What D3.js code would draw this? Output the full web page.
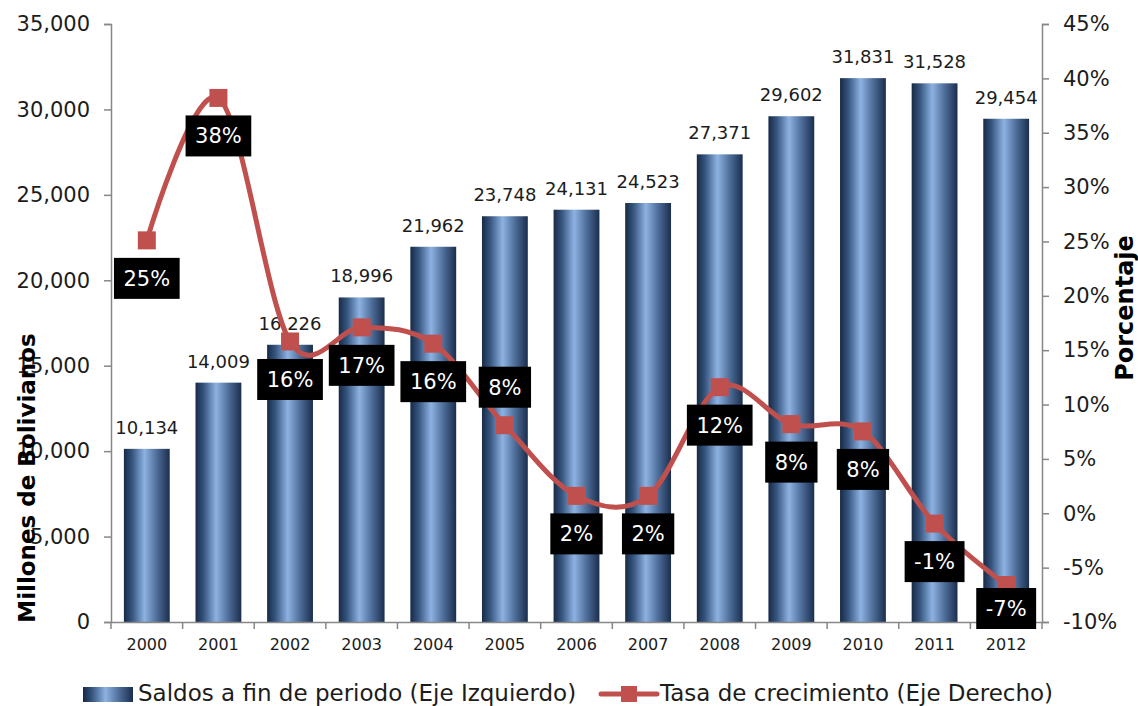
<!DOCTYPE html>
<html>
<head>
<meta charset="utf-8">
<script src="https://cdn.jsdelivr.net/npm/d3@7"></script>
<style>
  html, body { margin: 0; padding: 0; background: #fff; }
  svg { display: block; font-family: "DejaVu Sans", sans-serif; }
</style>
</head>
<body>
<svg id="chart" width="1138" height="706"></svg>
<script>
// Years on the category axis
const years = ["2000","2001","2002","2003","2004","2005","2006","2007","2008","2009","2010","2011","2012"];
// End-of-period balances, millions of bolivianos (left axis)
const saldos = [10134, 14009, 16226, 18996, 21962, 23748, 24131, 24523, 27371, 29602, 31831, 31528, 29454];
// Annual growth rate, percent (right axis)
const tasa = [25.1, 38.2, 15.8, 17.1, 15.6, 8.1, 1.6, 1.6, 11.6, 8.2, 7.53, -0.95, -6.6];
// Axis tick values
const leftTicks = [0, 5000, 10000, 15000, 20000, 25000, 30000, 35000];
const rightTicks = [-10, -5, 0, 5, 10, 15, 20, 25, 30, 35, 40, 45];
// Series names for the legend
const seriesNames = ["Saldos a fin de periodo (Eje Izquierdo)", "Tasa de crecimiento (Eje Derecho)"];
// Growth labels that sit above their marker instead of below
const labelsAbove = new Set(["2005"]);

const svg = d3.select("#chart");
const plot = { left: 111, right: 1042, top: 24, bottom: 622 };
const axisColor = "#878787";
const textColor = "#1c1c1c";
const lineColor = "#c0504d";

const x = d3.scaleBand().domain(years).range([plot.left, plot.right])
  .paddingInner(0.36).paddingOuter(0.18);
const y = d3.scaleLinear().domain([0, 35000]).range([plot.bottom, plot.top]);
const y2 = d3.scaleLinear().domain([-10, 45]).range([plot.bottom, plot.top]);

// Cylinder-like horizontal shading for the bars
const defs = svg.append("defs");
function barGradient(id) {
  const g = defs.append("linearGradient").attr("id", id)
    .attr("x1", "0%").attr("x2", "100%").attr("y1", "0%").attr("y2", "0%");
  [[0, "#172a46"], [0.18, "#36557f"], [0.45, "#8db2e2"], [0.72, "#4e6d99"], [1, "#1a2e4d"]]
    .forEach(([o, c]) => g.append("stop").attr("offset", o).attr("stop-color", c));
}
barGradient("barGrad");

// Bars
svg.append("g").selectAll("rect").data(years).join("rect")
  .attr("x", d => x(d))
  .attr("width", x.bandwidth())
  .attr("y", (d, i) => y(saldos[i]))
  .attr("height", (d, i) => y(0) - y(saldos[i]))
  .attr("fill", "url(#barGrad)");

// Bar value labels
svg.append("g").selectAll("text").data(years).join("text")
  .attr("x", d => x(d) + x.bandwidth() / 2)
  .attr("y", (d, i) => y(saldos[i]) - 15)
  .attr("text-anchor", "middle")
  .attr("font-size", 18)
  .attr("fill", textColor)
  .text((d, i) => d3.format(",")(saldos[i]));

// Left axis
const gL = svg.append("g").attr("transform", `translate(${plot.left},0)`)
  .call(d3.axisLeft(y).tickValues(leftTicks).tickFormat(d3.format(",")).tickSize(7).tickPadding(14));
gL.selectAll("text").attr("font-size", 21).attr("fill", textColor).attr("font-family", "DejaVu Sans");

// Right axis
const gR = svg.append("g").attr("transform", `translate(${plot.right},0)`)
  .call(d3.axisRight(y2).tickValues(rightTicks).tickFormat(d => d + "%").tickSize(7).tickPadding(14));
gR.selectAll("text").attr("font-size", 21).attr("fill", textColor).attr("font-family", "DejaVu Sans");

// Bottom axis: labels under the bands, tick marks on the band boundaries
const gB = svg.append("g").attr("transform", `translate(0,${plot.bottom})`)
  .call(d3.axisBottom(x).tickSize(0).tickPadding(17));
gB.selectAll("text").attr("font-size", 16).attr("fill", textColor).attr("font-family", "DejaVu Sans");
gB.selectAll(".tick line").remove();
gB.append("g").selectAll("line").data(d3.range(years.length + 1)).join("line")
  .attr("x1", i => plot.left + i * x.step())
  .attr("x2", i => plot.left + i * x.step())
  .attr("y1", 0).attr("y2", 7)
  .attr("stroke", axisColor).attr("stroke-width", 1.5);

[gL, gR, gB].forEach(g => {
  g.select(".domain").attr("stroke", axisColor).attr("stroke-width", 1.5);
  g.selectAll(".tick line").attr("stroke", axisColor).attr("stroke-width", 1.5);
});

// Growth line (smoothed) and square markers
const pts = years.map((d, i) => ({ year: d, v: tasa[i] }));
const cx = d => x(d.year) + x.bandwidth() / 2;
svg.append("path").datum(pts)
  .attr("d", d3.line().x(cx).y(d => y2(d.v)).curve(d3.curveCatmullRom.alpha(0)))
  .attr("fill", "none").attr("stroke", lineColor).attr("stroke-width", 5)
  .attr("stroke-linejoin", "round");
const ms = 18;
svg.append("g").selectAll("rect").data(pts).join("rect")
  .attr("x", d => cx(d) - ms / 2).attr("y", d => y2(d.v) - ms / 2)
  .attr("width", ms).attr("height", ms).attr("fill", lineColor);

// Growth labels: white text on black boxes
const boxH = 41;
const lab = svg.append("g").selectAll("g").data(pts).join("g")
  .attr("transform", d => {
    let cy = y2(d.v) + (labelsAbove.has(d.year) ? -38 : 38);
    cy = Math.min(cy, plot.bottom + 7 - boxH / 2);
    return `translate(${cx(d)},${cy})`;
  });
lab.append("rect").attr("fill", "#000");
const labText = lab.append("text")
  .attr("text-anchor", "middle").attr("dy", "0.36em")
  .attr("font-size", 21).attr("fill", "#fff")
  .text(d => Math.round(d.v) + "%");
labText.each(function () {
  const w = this.getComputedTextLength() + 19;
  d3.select(this.parentNode).select("rect")
    .attr("x", -w / 2).attr("y", -boxH / 2).attr("width", w).attr("height", boxH);
});

// Axis titles
svg.append("text")
  .attr("transform", "translate(27,478) rotate(-90)")
  .attr("text-anchor", "middle").attr("dy", "0.36em")
  .attr("font-size", 23).attr("font-weight", "bold").attr("fill", "#000")
  .text("Millones de Bolivianos");
svg.append("text")
  .attr("transform", "translate(1124,308) rotate(-90)")
  .attr("text-anchor", "middle").attr("dy", "0.36em")
  .attr("font-size", 24).attr("font-weight", "bold").attr("fill", "#000")
  .text("Porcentaje");

// Legend
const leg = svg.append("g");
leg.append("rect").attr("x", 83).attr("y", 687).attr("width", 50).attr("height", 15)
  .attr("fill", "url(#barGrad)");
leg.append("text").attr("x", 138).attr("y", 693).attr("dy", "0.36em")
  .attr("font-size", 23).attr("fill", textColor).text(seriesNames[0]);
leg.append("line").attr("x1", 601).attr("x2", 657).attr("y1", 694).attr("y2", 694)
  .attr("stroke", lineColor).attr("stroke-width", 5).attr("stroke-linecap", "round");
leg.append("rect").attr("x", 629 - 8).attr("y", 694 - 8).attr("width", 16).attr("height", 16)
  .attr("fill", lineColor);
leg.append("text").attr("x", 660).attr("y", 693).attr("dy", "0.36em")
  .attr("font-size", 23).attr("fill", textColor).text(seriesNames[1]);
</script>
</body>
</html>
